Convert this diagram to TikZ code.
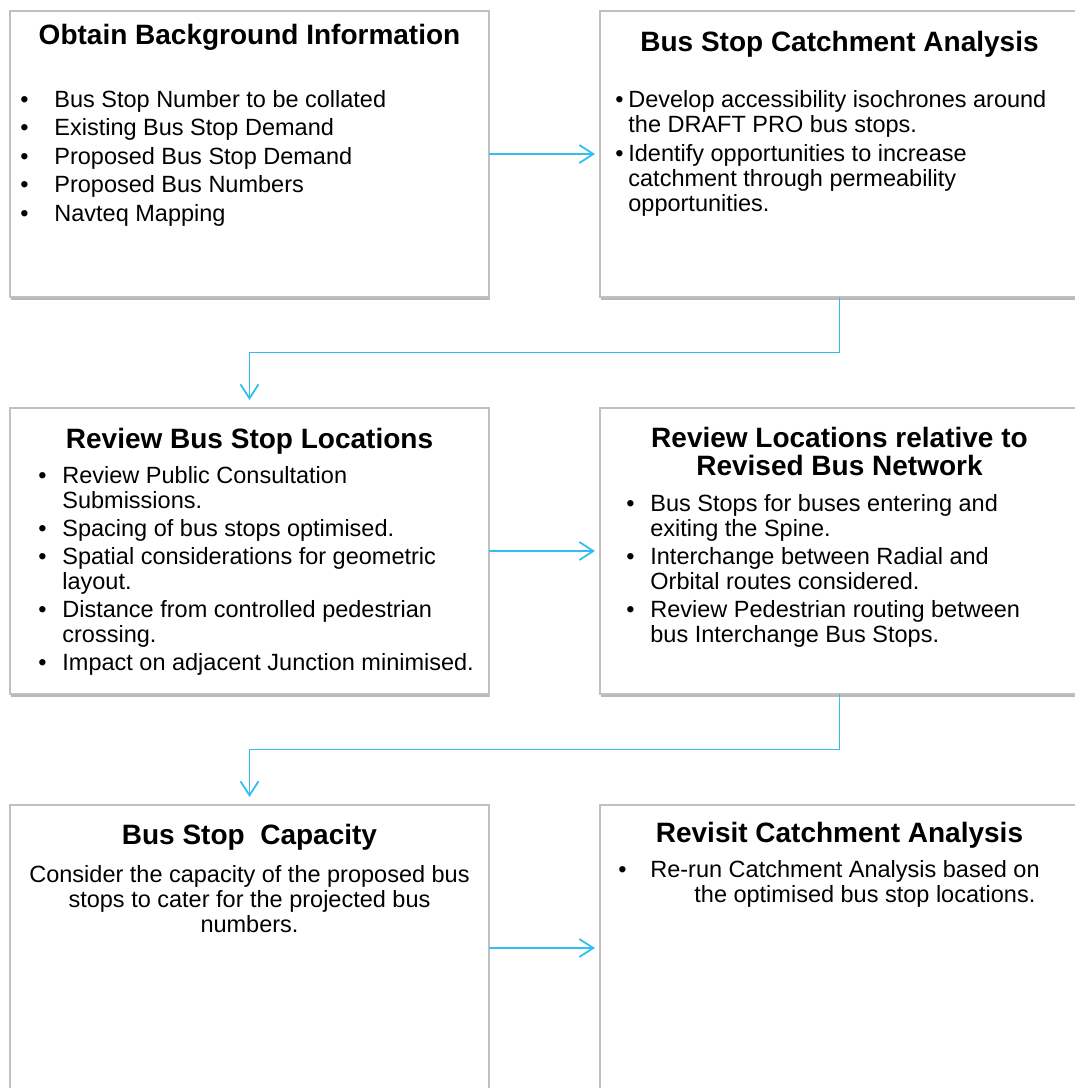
\documentclass[tikz,border=0pt]{standalone}
\usepackage{fontspec}
\setmainfont{Liberation Sans}
\usetikzlibrary{positioning, shadows, arrows.meta}
\definecolor{flowcolor}{RGB}{50,190,238}
\definecolor{edgecolor}{RGB}{192,192,192}

\newcommand{\headfont}{\bfseries\fontsize{14}{14}\selectfont}
\newcommand{\bodyfont}{\fontsize{11.75}{12.5}\selectfont}
\newcommand{\bul}[1]{\makebox[#1][l]{\textbullet}}

\begin{document}
\begin{tikzpicture}[
    stage/.style={rectangle, draw=edgecolor, fill=white, line width=1pt, outer sep=0pt, minimum width=239.5pt, minimum height=143pt, inner sep=0pt, drop shadow={shadow xshift=0.6pt, shadow yshift=-1.6pt, opacity=0.5, fill=black!55}},
    heading/.style={font=\headfont, inner sep=0pt, anchor=base},
    points/.style={font=\bodyfont, inner sep=0pt, anchor=base west},
    flow/.style={-{Straight Barb[length=7pt, width=9pt]}, draw=flowcolor, line width=0.9pt},
    node distance=55.5pt and 55.5pt
]

\useasboundingbox (-5pt,5.5pt) rectangle (532.5pt,-538.5pt);

% Stages
\node[stage, anchor=north west] (info) at (0,0) {};
\node[stage, right=of info] (catch) {};
\node[stage, below=of info] (review) {};
\node[stage, right=of review] (network) {};
\node[stage, below=of review] (capacity) {};
\node[stage, right=of capacity] (revisit) {};

% Headings
\node[heading] (infoT) at ([yshift=-16.5pt]info.north) {Obtain Background Information};
\node[heading] (catchT) at ([yshift=-20pt]catch.north) {Bus Stop Catchment Analysis};
\node[heading] (reviewT) at ([yshift=-20pt]review.north) {Review Bus Stop Locations};
\node[heading] (networkT) at ([yshift=-19.5pt]network.north) {\begin{tabular}[t]{@{}c@{}}Review Locations relative to\\Revised Bus Network\end{tabular}};
\node[heading] (capacityT) at ([yshift=-19.5pt]capacity.north) {Bus Stop\ \ Capacity};
\node[heading] (revisitT) at ([yshift=-18.5pt]revisit.north) {Revisit Catchment Analysis};

% Bullet points
\node[points] (infoL) at ([xshift=5pt, yshift=-48pt]info.north west) {\begin{tabular}[t]{@{}l@{}l@{}}
\bul{17pt} & Bus Stop Number to be collated\\[1.75pt]
\bul{17pt} & Existing Bus Stop Demand\\[1.75pt]
\bul{17pt} & Proposed Bus Stop Demand\\[1.75pt]
\bul{17pt} & Proposed Bus Numbers\\[1.75pt]
\bul{17pt} & Navteq Mapping
\end{tabular}};

\node[points] (catchL) at ([xshift=7.5pt, yshift=-48pt]catch.north west) {\begin{tabular}[t]{@{}l@{}l@{}}
\bul{6.5pt} & Develop accessibility isochrones around\\
 & the DRAFT PRO bus stops.\\[2pt]
\bul{6.5pt} & Identify opportunities to increase\\
 & catchment through permeability\\
 & opportunities.
\end{tabular}};

\node[points] (reviewL) at ([xshift=14pt, yshift=-37.5pt]review.north west) {\begin{tabular}[t]{@{}l@{}l@{}}
\bul{12pt} & Review Public Consultation\\
 & Submissions.\\[1.5pt]
\bul{12pt} & Spacing of bus stops optimised.\\[1.5pt]
\bul{12pt} & Spatial considerations for geometric\\
 & layout.\\[1.5pt]
\bul{12pt} & Distance from controlled pedestrian\\
 & crossing.\\[1.5pt]
\bul{12pt} & Impact on adjacent Junction minimised.
\end{tabular}};

\node[points] (networkL) at ([xshift=13pt, yshift=-51.5pt]network.north west) {\begin{tabular}[t]{@{}l@{}l@{}}
\bul{12pt} & Bus Stops for buses entering and\\
 & exiting the Spine.\\[1.5pt]
\bul{12pt} & Interchange between Radial and\\
 & Orbital routes considered.\\[1.5pt]
\bul{12pt} & Review Pedestrian routing between\\
 & bus Interchange Bus Stops.
\end{tabular}};

\node[points, anchor=base] (capacityL) at ([yshift=-38.5pt]capacity.north) {\begin{tabular}[t]{@{}c@{}}
Consider the capacity of the proposed bus\\
stops to cater for the projected bus\\
numbers.
\end{tabular}};

\node[points] (revisitL) at ([xshift=9pt, yshift=-36pt]revisit.north west) {\begin{tabular}[t]{@{}l@{}l@{}}
\bul{16pt} & Re-run Catchment Analysis based on\\
 & \hspace{22pt}the optimised bus stop locations.
\end{tabular}};

% Flow
\draw[flow, shorten >=2.5pt] (info) -- (catch);
\draw[flow, shorten >=4pt] (catch.south) -- ++(0,-27.75pt) -| (review.north);
\draw[flow, shorten >=2.5pt] (review) -- (network);
\draw[flow, shorten >=4pt] (network.south) -- ++(0,-27.75pt) -| (capacity.north);
\draw[flow, shorten >=2.5pt] (capacity) -- (revisit);

\end{tikzpicture}
\end{document}
